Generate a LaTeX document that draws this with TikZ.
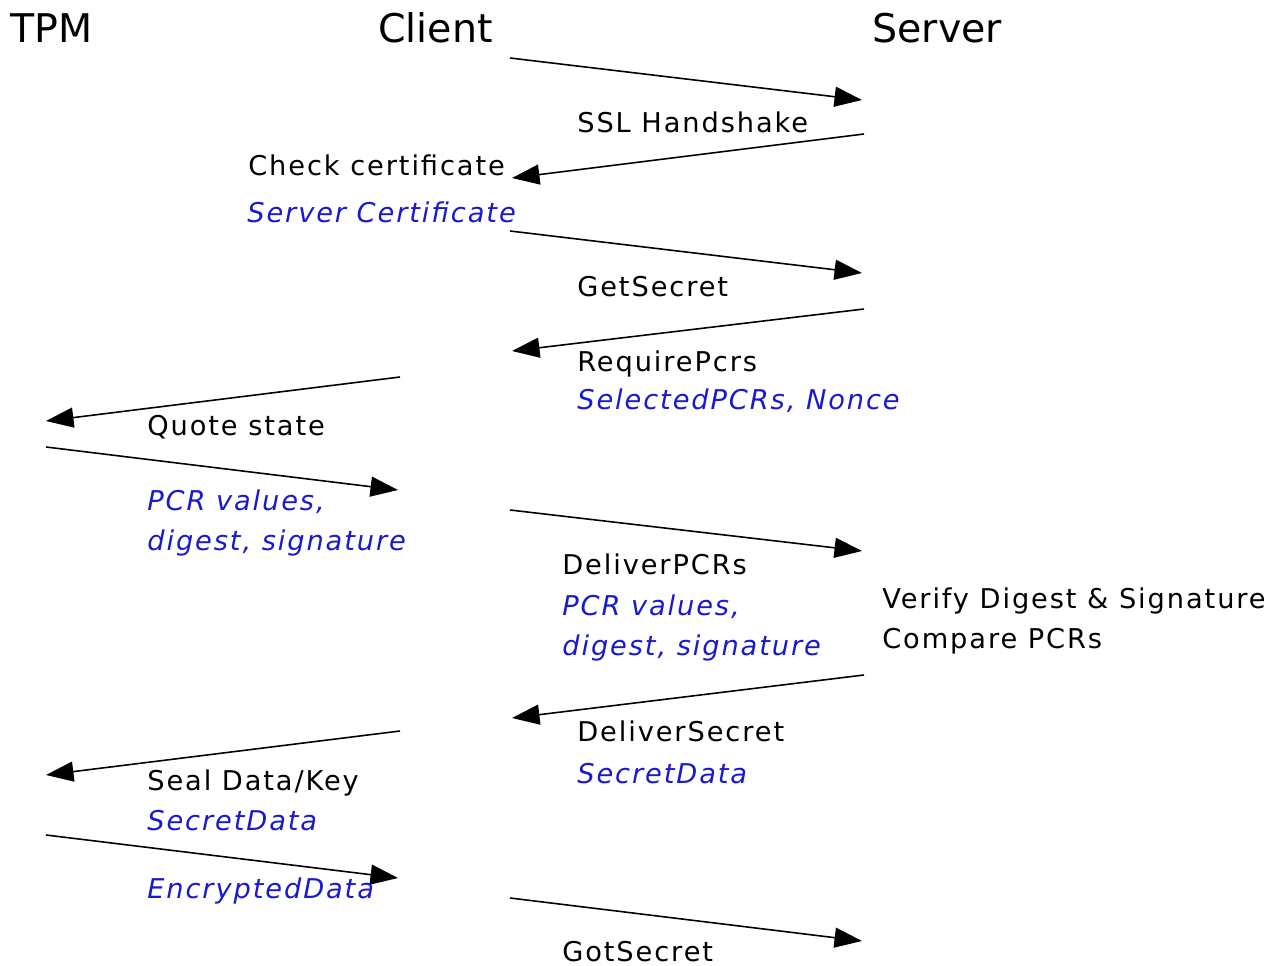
\documentclass[tikz,border=0pt]{standalone}
\usepackage{fontspec}
\setmainfont{DejaVu Sans}
\newfontfamily\msgfont[LetterSpace=7]{DejaVu Sans}
\usetikzlibrary{arrows.meta}
\definecolor{argblue}{RGB}{25,25,205}
\tikzset{
  >={Triangle[length=5.5mm,width=4mm]},
  every node/.append style={inner sep=0pt, anchor=base west},
}

\begin{document}
\begin{tikzpicture}[
  x=0.02cm, y=-0.02cm,
  role/.style={font=\fontsize{22.5}{27}\selectfont},
  msg/.style={font=\msgfont\fontsize{15.5}{18}\selectfont},
  arg/.style={font=\msgfont\fontsize{15.5}{18}\selectfont\itshape, text=argblue},
  call/.style={->, line width=0.9pt}
]
\useasboundingbox (0,0) rectangle (1272,966);

% Participants
\node[role] (tpm)    at (10,43)  {TPM};
\node[role] (client) at (378,43) {Client};
\node[role] (server) at (872,43) {Server};

% Messages (from/to ends)
\foreach \name/\xa/\ya/\xb/\yb in {
  hello/510/58/862/100,
  cert/864/134/512/178,
  getsec/510/231/862/273,
  reqpcr/864/309/512/351,
  quote/400/377/46/421,
  quoted/46/447/398/490,
  deliver/510/510/862/551,
  secret/864/675/512/718,
  seal/400/731/46/775,
  sealed/46/835/398/878,
  got/510/898/862/941}
{
  \coordinate (\name-from) at (\xa,\ya);
  \coordinate (\name-to) at (\xb,\yb);
  \draw[call] (\name-from) -- (\name-to);
}

% Labels
\node[msg] (hello-lbl)   at (577,133) {SSL Handshake};
\node[msg] (cert-lbl)    at (248,176) {Check certificate};
\node[arg] (cert-arg)    at (247,223) {Server Certificate};
\node[msg] (getsec-lbl)  at (577,297) {GetSecret};
\node[msg] (reqpcr-lbl)  at (577,372) {RequirePcrs};
\node[arg] (reqpcr-arg)  at (577,410) {SelectedPCRs, Nonce};
\node[msg] (quote-lbl)   at (147,436) {Quote state};
\node[arg] (quoted-arg)  at (147,510) {PCR values,};
\node[arg] (quoted-arg2) at (147,550) {digest, signature};
\node[msg] (deliver-lbl) at (562,574) {DeliverPCRs};
\node[arg] (deliver-arg) at (562,615) {PCR values,};
\node[arg] (deliver-arg2) at (562,655) {digest, signature};
\node[msg] (verify)      at (882,608) {Verify Digest \& Signature};
\node[msg] (compare)     at (882,648) {Compare PCRs};
\node[msg] (secret-lbl)  at (577,741) {DeliverSecret};
\node[arg] (secret-arg)  at (577,783) {SecretData};
\node[msg] (seal-lbl)    at (147,790) {Seal Data/Key};
\node[arg] (seal-arg)    at (147,830) {SecretData};
\node[arg] (sealed-arg)  at (147,898) {EncryptedData};
\node[msg] (got-lbl)     at (562,961) {GotSecret};

\end{tikzpicture}
\end{document}
